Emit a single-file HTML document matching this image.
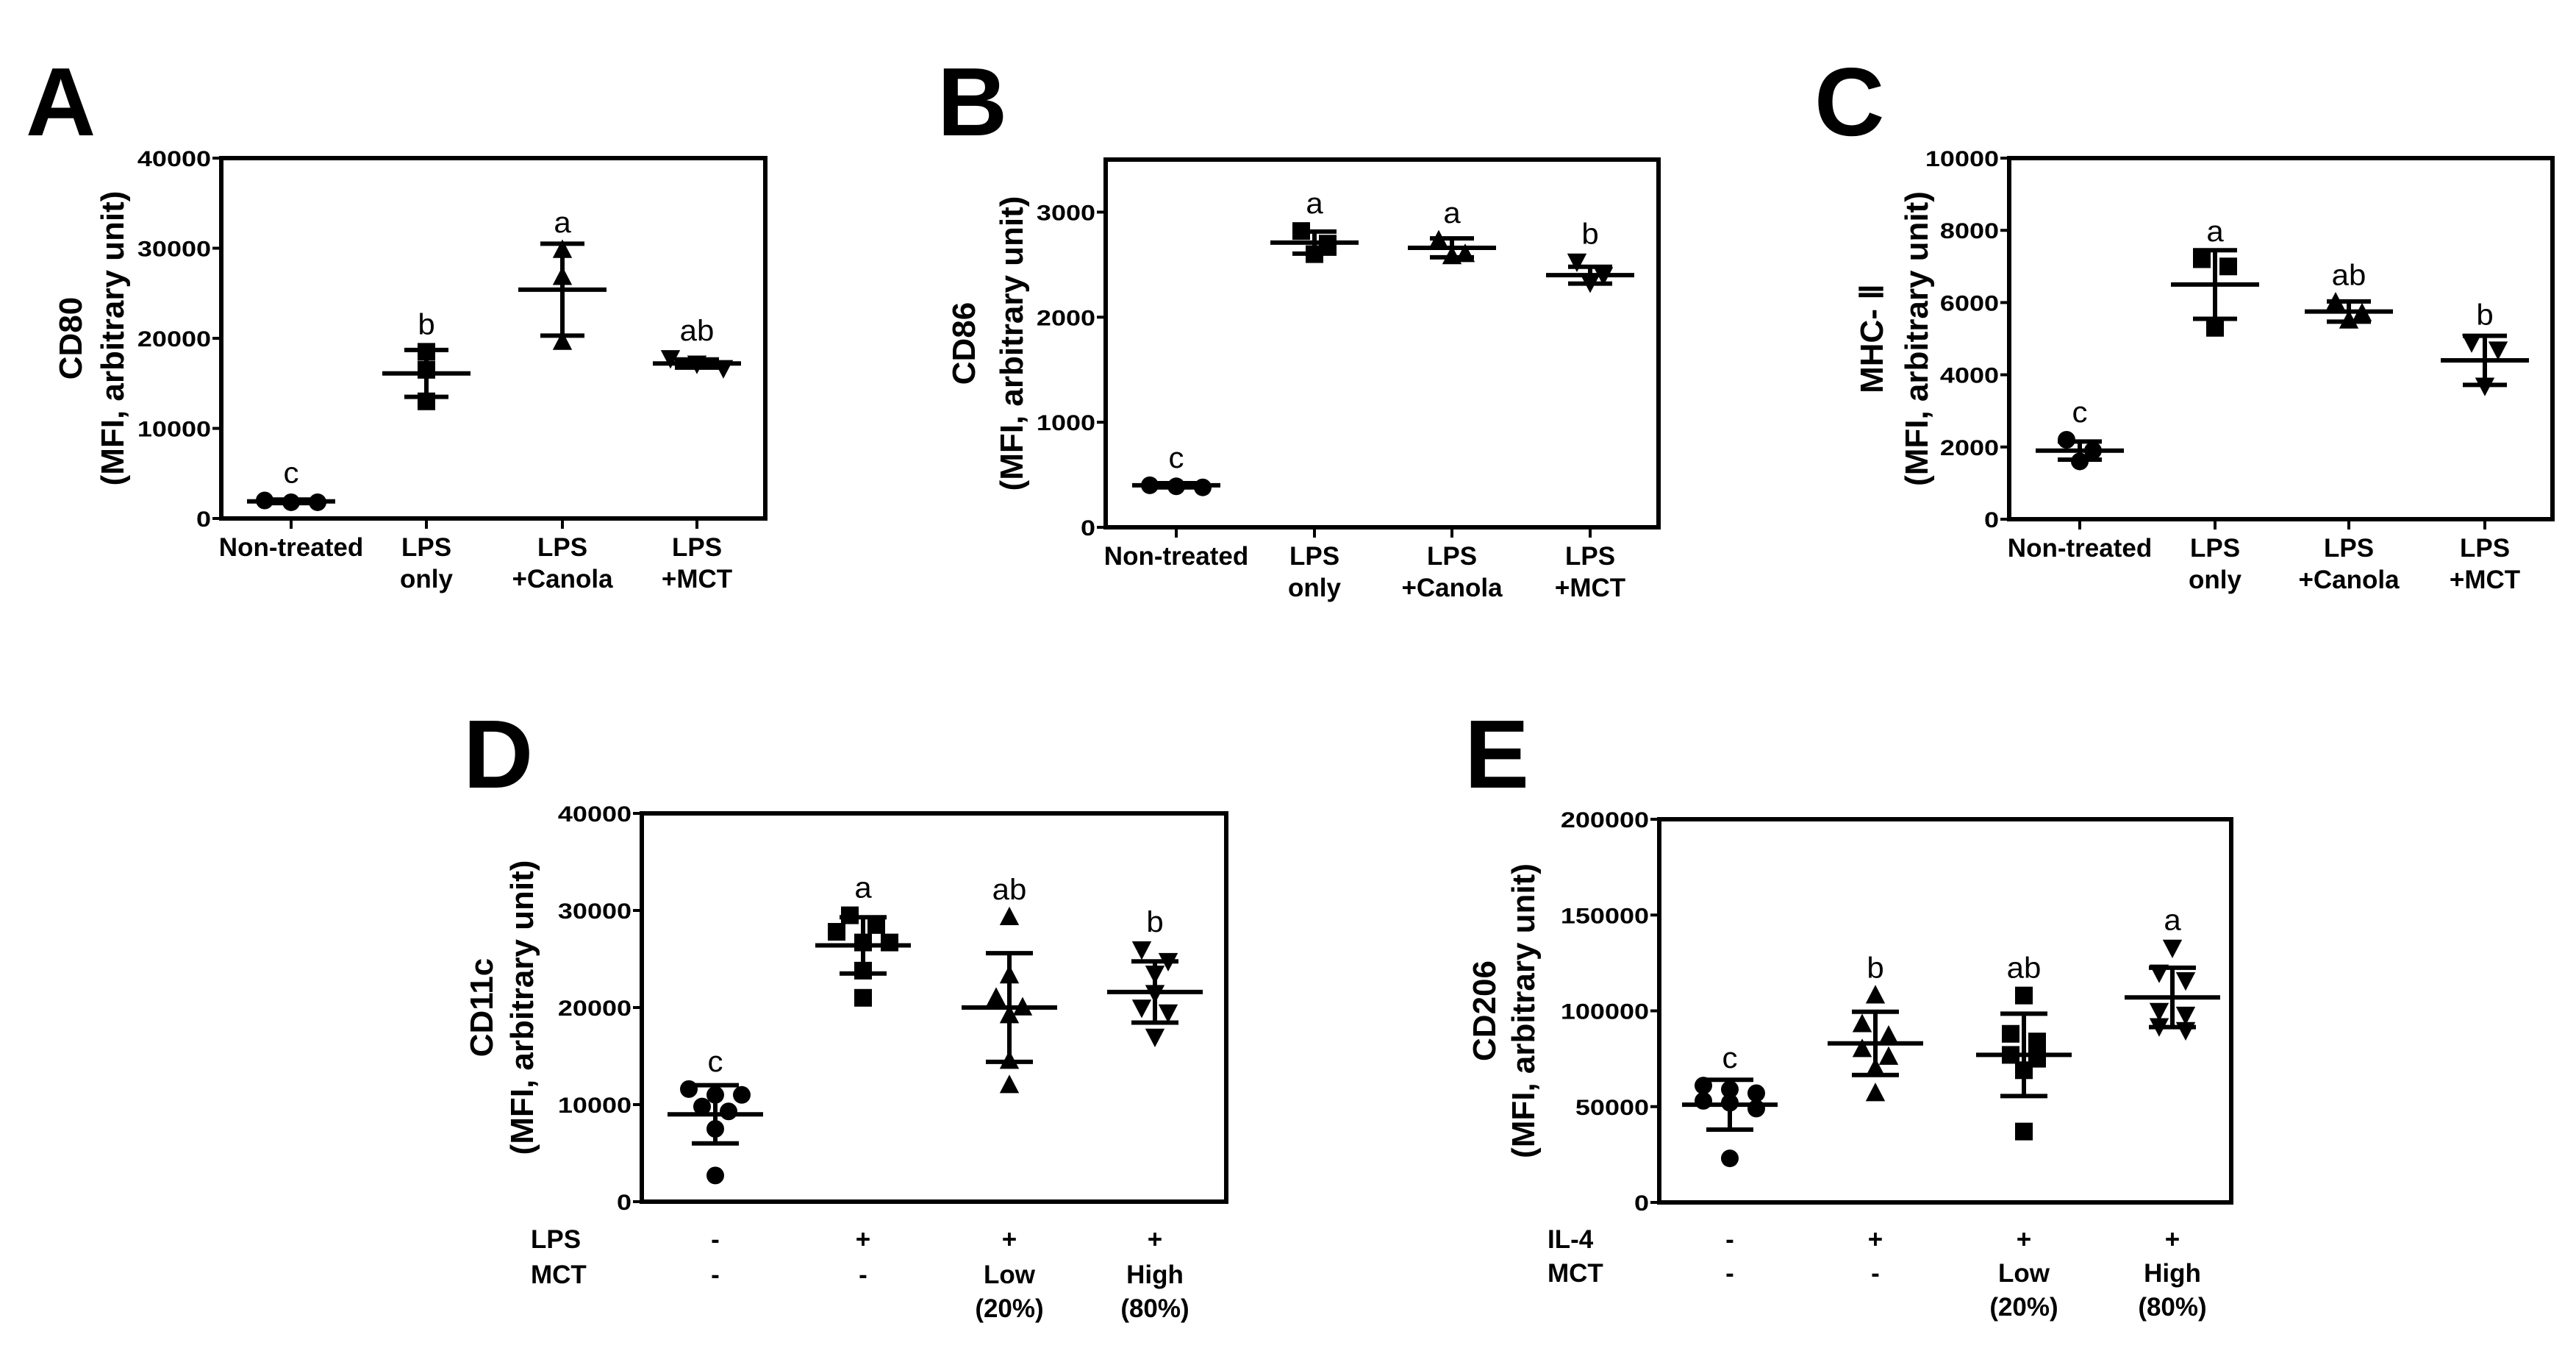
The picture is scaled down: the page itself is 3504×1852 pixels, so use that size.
<!DOCTYPE html>
<html><head><meta charset="utf-8">
<style>
html,body{margin:0;padding:0;background:#fff;}
svg{display:block;font-family:"Liberation Sans",Arial,sans-serif;}
</style></head>
<body>
<svg id="fig" width="3504" height="1852" viewBox="0 0 3504 1852" xmlns="http://www.w3.org/2000/svg"></svg>
<script>
// ---------- DATA ----------
const catsABC = ["Non-treated", "LPS|only", "LPS|+Canola", "LPS|+MCT"];
const tickA = [0, 10000, 20000, 30000, 40000];
const valsA = [[2000, 1800, 1800], [18500, 16500, 13000], [29800, 26800, 19600], [17800, 17200, 16700]];
const meanA = [1900, 16100, 25400, 17200];
const sdA = [200, 2600, 5100, 450];
const sigA = ["c", "b", "a", "ab"];

const tickB = [0, 1000, 2000, 3000];
const valsB = [[400, 390, 380], [2820, 2700, 2600], [2730, 2600, 2580], [2530, 2400, 2330]];
const meanB = [400, 2710, 2660, 2400];
const sdB = [20, 105, 90, 80];
const sigB = ["c", "a", "a", "b"];

const tickC = [0, 2000, 4000, 6000, 8000, 10000];
const valsC = [[2200, 1900, 1600], [7200, 7000, 5300], [6000, 5700, 5500], [4900, 4700, 3700]];
const meanC = [1900, 6500, 5750, 4400];
const sdC = [250, 950, 280, 680];
const sigC = ["c", "a", "ab", "b"];

const rowsD = ["LPS", "MCT"];
const catsD = [["-", "-"], ["+", "-"], ["+", "Low|(20%)"], ["+", "High|(80%)"]];
const tickD = [0, 10000, 20000, 30000, 40000];
const valsD = [[11000, 9800, 11000, 9300, 11600, 7500, 2700], [29500, 27800, 28500, 26700, 26700, 23800, 21000],
  [29300, 23300, 21000, 20000, 19200, 14500, 12000], [26000, 24800, 23500, 21500, 20000, 19500, 17000]];
const meanD = [9000, 26400, 20000, 21600];
const sdD = [3000, 2900, 5600, 3150];
const sigD = ["c", "a", "ab", "b"];

const rowsE = ["IL-4", "MCT"];
const catsE = [["-", "-"], ["+", "-"], ["+", "Low|(20%)"], ["+", "High|(80%)"]];
const tickE = [0, 50000, 100000, 150000, 200000];
const valsE = [[59000, 61000, 57000, 53000, 52000, 49000, 23000], [108000, 93000, 87000, 80000, 76000, 70000, 57000],
  [108000, 88000, 84000, 77000, 75000, 69000, 37000], [133000, 120000, 116000, 100000, 98000, 92000, 90000]];
const meanE = [51000, 83000, 77000, 107000];
const sdE = [13000, 16500, 21500, 15500];
const sigE = ["c", "b", "ab", "a"];

// ---------- RENDER ----------
const NS = "http://www.w3.org/2000/svg";
const svg = document.getElementById("fig");
function mk(tag, attrs, parent) {
  const e = document.createElementNS(NS, tag);
  for (const k in attrs) e.setAttribute(k, attrs[k]);
  (parent || svg).appendChild(e);
  return e;
}
function txt(parent, x, y, s, size, anchor, weight, sx, name) {
  const g = mk("g", {transform: `translate(${x},${y}) scale(${sx},1)`}, parent);
  const t = mk("text", {x: 0, y: 0, "font-size": size, "text-anchor": anchor, "font-weight": weight, fill: "#000"}, g);
  t.textContent = s;
  
  
  return t;
}
function marker(g, shape, cx, cy, s) {
  let e;
  if (shape === "circle") e = mk("circle", {cx, cy, r: s / 2}, g);
  else if (shape === "square") e = mk("rect", {x: cx - s / 2, y: cy - s / 2, width: s, height: s}, g);
  else if (shape === "up") e = mk("polygon", {points: `${cx},${cy - s * 0.6} ${cx - s * 0.55},${cy + s * 0.45} ${cx + s * 0.55},${cy + s * 0.45}`}, g);
  else e = mk("polygon", {points: `${cx},${cy + s * 0.6} ${cx - s * 0.55},${cy - s * 0.45} ${cx + s * 0.55},${cy - s * 0.45}`}, g);
  e.setAttribute("fill", "#000");
  
  
}
function panel(p) {
  const g = mk("g", {});
  
  
  txt(g, p.lx, p.ly, p.letter, 132, "start", "bold", 1, "panel-label");
  const ymax = p.ymax;
  const Y = v => p.b - (v / ymax) * (p.b - p.t);
  const X = i => p.cx[i];
  const fr = mk("rect", {x: p.l, y: p.t, width: p.r - p.l, height: p.b - p.t, fill: "none", stroke: "#000", "stroke-width": 6}, g);
  
  
  p.ticks.forEach(v => {
    const y = Y(v);
    mk("line", {x1: p.l - 12, x2: p.l, y1: y, y2: y, stroke: "#000", "stroke-width": 4}, g);
    txt(g, p.l - 14, y + 11, String(v), 30, "end", "bold", 1.2, "y-tick-label");
  });
  const yc = (p.t + p.b) / 2;
  const t1 = mk("text", {transform: `translate(${p.yt1 + 4},${yc}) rotate(-90)`, "text-anchor": "middle", "font-size": 44, "font-weight": "bold"}, g);
  t1.textContent = p.ytitle;
  
  
  const t2 = mk("text", {transform: `translate(${p.yt2 + 6},${yc}) rotate(-90)`, "text-anchor": "middle", "font-size": 44, "font-weight": "bold"}, g);
  t2.textContent = "(MFI, arbitrary unit)";
  
  
  for (let i = 0; i < 4; i++) {
    const x = X(i);
    if (p.catTicks) mk("line", {x1: x, x2: x, y1: p.b, y2: p.b + 14, stroke: "#000", "stroke-width": 4}, g);
    if (p.cats) {
      p.cats[i].split("|").forEach((s, k) => txt(g, x, p.catY + k * 43, s, 35, "middle", "bold", 1, "x-category-label"));
    } else {
      p.rowCats[i].forEach((c, r) => c.split("|").forEach((s, k) =>
        txt(g, x, p.rowY[r] + k * 46, s, 35, "middle", "bold", 1, "x-category-label")));
    }
  }
  if (p.rows) p.rows.forEach((s, r) => txt(g, p.rowX, p.rowY[r], s, 35, "start", "bold", 1, "row-label"));
  const ms = p.ms;
  for (let i = 0; i < 4; i++) {
    const gg = mk("g", {}, g);
    
    
    const x = X(i);
    const vals = p.vals[i];
    const ys = vals.map(Y);
    const order = ys.map((y, k) => k).sort((a, b) => ys[a] - ys[b]);
    const offs = new Array(vals.length).fill(0);
    let cl = [];
    const flush = () => { cl.forEach((k, j) => offs[k] = (j - (cl.length - 1) / 2) * ms * 1.5); cl = []; };
    order.forEach(k => { if (cl.length && ys[k] - ys[cl[0]] > ms * 0.8) flush(); cl.push(k); });
    flush();
    vals.forEach((v, k) => marker(gg, p.shapes[i], x + offs[k], ys[k], ms));
    const ym = Y(p.mean[i]), yh = Y(p.mean[i] + p.sd[i]), yl = Y(p.mean[i] - p.sd[i]);
    const st = {stroke: "#000", "stroke-width": 6};
    const ml = mk("line", Object.assign({x1: x - p.mw, x2: x + p.mw, y1: ym, y2: ym}, st), gg);
    
    
    const ev = mk("line", Object.assign({x1: x, x2: x, y1: yh, y2: yl}, st), gg);
    
    
    mk("line", Object.assign({x1: x - p.cw, x2: x + p.cw, y1: yh, y2: yh}, st), gg);
    mk("line", Object.assign({x1: x - p.cw, x2: x + p.cw, y1: yl, y2: yl}, st), gg);
    const top = Math.min(yh, Math.min(...ys) - ms / 2);
    txt(gg, x, top - 12, p.sig[i], 40, "middle", "normal", 1.05, "significance-letter");
  }
}
const shapes4 = ["circle", "square", "up", "down"];
panel({letter: "A", lx: 35, ly: 184, l: 301, r: 1041, t: 215, b: 705, ymax: 40000, ticks: tickA,
  cx: [396, 580, 765, 948], cats: catsABC, catY: 756, catTicks: true, ytitle: "CD80", yt1: 107, yt2: 162,
  vals: valsA, mean: meanA, sd: sdA, sig: sigA, shapes: shapes4, ms: 24, mw: 60, cw: 30});
panel({letter: "B", lx: 1275, ly: 184, l: 1504, r: 2256, t: 217, b: 717, ymax: 3500, ticks: tickB,
  cx: [1600, 1788, 1975, 2163], cats: catsABC, catY: 768, catTicks: true, ytitle: "CD86", yt1: 1322, yt2: 1385,
  vals: valsB, mean: meanB, sd: sdB, sig: sigB, shapes: shapes4, ms: 24, mw: 60, cw: 30});
panel({letter: "C", lx: 2468, ly: 184, l: 2733, r: 3472, t: 215, b: 706, ymax: 10000, ticks: tickC,
  cx: [2829, 3013, 3195, 3380], cats: catsABC, catY: 757, catTicks: true, ytitle: "MHC- Ⅱ", yt1: 2557, yt2: 2616,
  vals: valsC, mean: meanC, sd: sdC, sig: sigC, shapes: shapes4, ms: 24, mw: 60, cw: 30});
panel({letter: "D", lx: 630, ly: 1071, l: 873, r: 1668, t: 1106, b: 1634, ymax: 40000, ticks: tickD,
  cx: [973, 1174, 1373, 1571], rowCats: catsD, rows: rowsD, rowX: 722, rowY: [1697, 1745], catTicks: false,
  ytitle: "CD11c", yt1: 666, yt2: 719,
  vals: valsD, mean: meanD, sd: sdD, sig: sigD, shapes: shapes4, ms: 24, mw: 65, cw: 32});
panel({letter: "E", lx: 1992, ly: 1071, l: 2257, r: 3035, t: 1114, b: 1635, ymax: 200000, ticks: tickE,
  cx: [2353, 2551, 2753, 2955], rowCats: catsE, rows: rowsE, rowX: 2105, rowY: [1697, 1743], catTicks: false,
  ytitle: "CD206", yt1: 2030, yt2: 2081,
  vals: valsE, mean: meanE, sd: sdE, sig: sigE, shapes: ["circle", "up", "square", "down"], ms: 24, mw: 65, cw: 32});
</script>
</body></html>
